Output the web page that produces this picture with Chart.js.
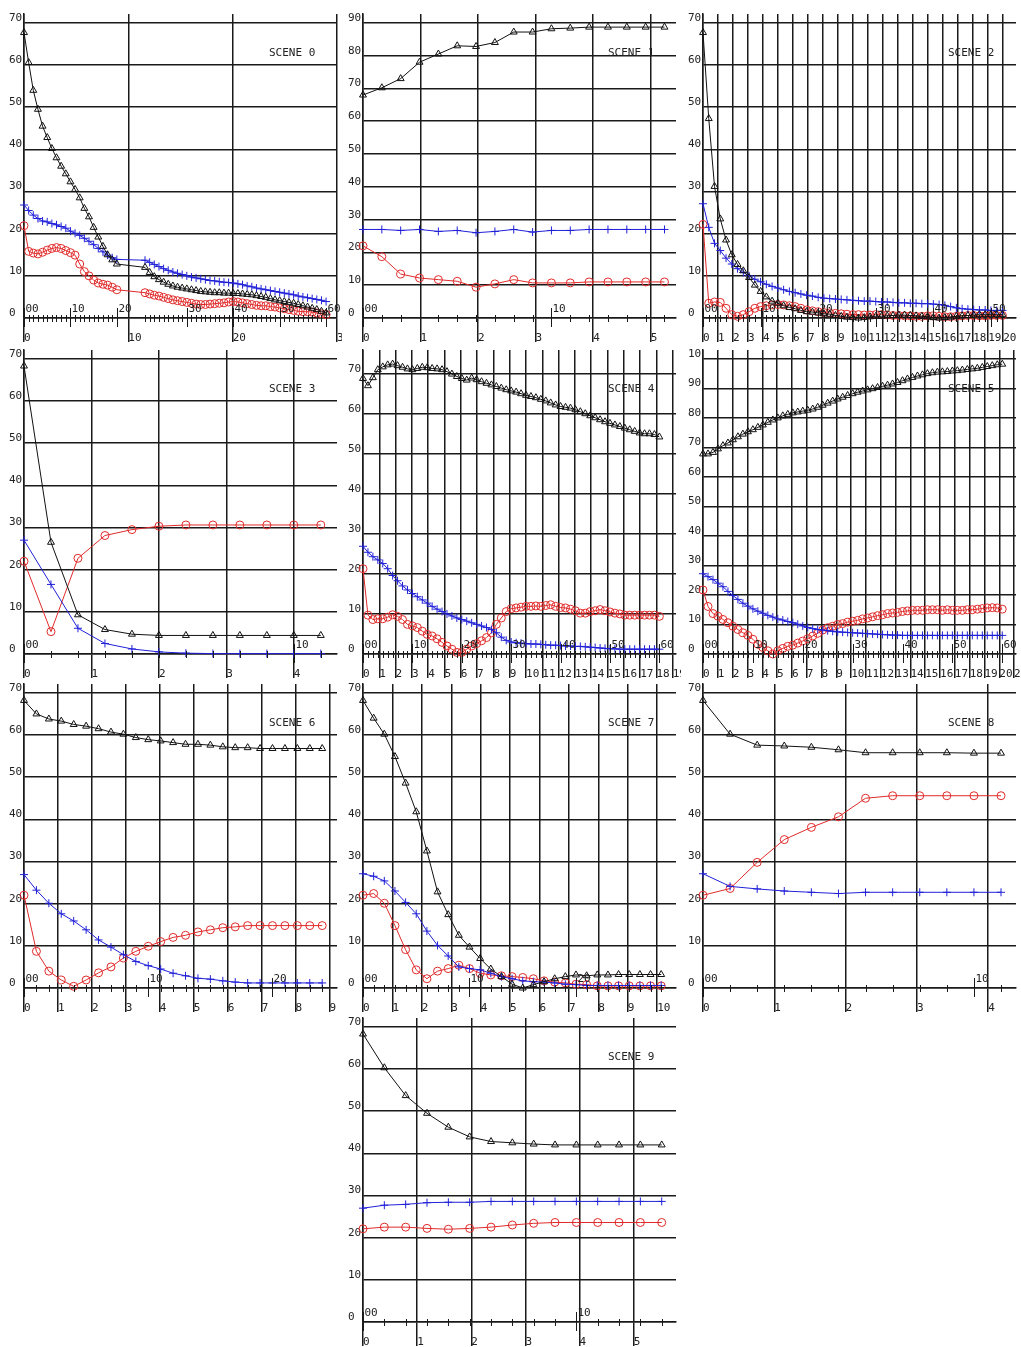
<!DOCTYPE html>
<html>
<head>
<meta charset="utf-8">
<script src="https://cdn.jsdelivr.net/npm/chart.js@4.4.1/dist/chart.umd.min.js"></script>
<style>
  html, body { margin: 0; padding: 0; background: #fff; overflow: hidden; }
  #wrap { position: relative; width: 1021px; height: 1347px; }
  #wrap canvas { position: absolute; }
</style>
</head>
<body>
<div id="wrap"></div>
<script>
// ---- values (black = triangles, blue = plus, red = circles)
const scene0Black = [67.7, 60.6, 54.0, 49.5, 45.5, 42.8, 40.2, 38.0, 36.0, 34.2, 32.3, 30.5, 28.5, 26.0, 24.0, 21.5, 19.2, 17.0, 15.0, 13.8, 12.8,
  12.0, 10.8, 9.8, 9.1, 8.5, 8.0, 7.6, 7.3, 7.1, 6.9, 6.7, 6.5, 6.3, 6.2, 6.1, 6.0, 6.0, 5.9, 5.9, 5.8,
  5.8, 5.7, 5.6, 5.5, 5.3, 5.1, 4.9, 4.6, 4.3, 4.1, 3.9, 3.7, 3.5, 3.2, 2.9, 2.6, 2.3, 2.0, 1.6, 1.2];
const scene0Blue = [26.8, 25.5, 24.4, 23.6, 23.0, 22.8, 22.4, 22.1, 21.7, 21.3, 20.6, 20.1, 19.6, 18.9, 18.2, 17.4, 16.5, 15.7, 14.9, 14.3, 13.9,
  13.7, 13.2, 12.7, 12.2, 11.7, 11.3, 10.9, 10.6, 10.3, 10.0, 9.7, 9.5, 9.3, 9.1, 8.9, 8.8, 8.6, 8.5, 8.4, 8.3,
  8.1, 7.9, 7.6, 7.4, 7.1, 6.9, 6.7, 6.5, 6.3, 6.1, 5.9, 5.7, 5.5, 5.2, 5.0, 4.8, 4.6, 4.4, 4.2, 3.9];
const scene0Red = [21.9, 15.8, 15.4, 15.2, 15.6, 16.1, 16.5, 16.7, 16.5, 16.0, 15.5, 14.9, 12.8, 11.0, 10.0, 9.0, 8.3, 8.0, 7.8, 7.3, 6.7,
  6.0, 5.7, 5.4, 5.2, 4.9, 4.6, 4.3, 4.1, 3.9, 3.7, 3.5, 3.3, 3.2, 3.2, 3.3, 3.4, 3.5, 3.6, 3.8, 3.9,
  3.8, 3.6, 3.4, 3.2, 3.0, 2.9, 2.9, 2.7, 2.6, 2.4, 2.2, 2.0, 1.8, 1.6, 1.5, 1.5, 1.4, 1.2, 1.0, 0.8];
const scene0Jump = { index: 21, time: 11.6 };

const scene1Black = [68.0, 70.2, 73.0, 78.0, 80.5, 83.0, 82.8, 84.0, 87.2, 87.2, 88.2, 88.4, 88.7, 88.7, 88.7, 88.7, 88.7];
const scene1Blue = [27.0, 27.0, 26.7, 27.0, 26.4, 26.7, 26.0, 26.4, 27.0, 26.2, 26.7, 26.7, 27.0, 27.0, 27.0, 27.0, 27.0];
const scene1Red = [22.0, 18.7, 13.4, 12.2, 11.7, 11.2, 9.4, 10.4, 11.7, 10.7, 10.7, 10.7, 11.0, 11.0, 11.0, 11.0, 11.0];

const scene2Black = [67.7, 47.3, 31.2, 23.5, 18.5, 15.0, 12.7, 11.2, 9.6, 7.8, 6.3, 5.0, 4.0, 3.5, 2.9, 2.5, 2.2, 1.8, 1.5, 1.4, 1.2,
  1.0, 0.9, 0.6, 0.4, 0.2, 0.1, 0.0, 0.1, 0.3, 0.4, 0.4, 0.5, 0.6, 0.7, 0.7, 0.6, 0.5, 0.4, 0.3, 0.1,
  0.0, 0.1, 0.2, 0.4, 0.5, 0.6, 0.7, 0.8, 0.8, 0.8, 0.8, 0.8];
const scene2Blue = [27.1, 21.5, 17.7, 16.0, 14.2, 12.8, 11.7, 10.8, 10.0, 9.2, 8.6, 8.0, 7.5, 7.1, 6.7, 6.3, 6.0, 5.7, 5.4, 5.2, 4.9,
  4.7, 4.6, 4.5, 4.4, 4.3, 4.2, 4.1, 4.0, 4.0, 3.9, 3.8, 3.8, 3.7, 3.6, 3.6, 3.5, 3.5, 3.4, 3.4, 3.3,
  3.2, 3.0, 2.7, 2.4, 2.2, 2.1, 2.0, 1.9, 1.9, 1.8, 1.8, 1.8];
const scene2Red = [22.2, 3.5, 3.8, 3.7, 2.3, 0.8, 0.4, 0.8, 1.5, 2.3, 2.7, 2.9, 3.1, 3.2, 3.1, 2.9, 2.7, 2.3, 1.9, 1.7, 1.5,
  1.3, 1.2, 1.1, 1.0, 0.9, 0.8, 0.8, 0.7, 0.7, 0.8, 0.8, 0.7, 0.6, 0.6, 0.5, 0.5, 0.4, 0.4, 0.5, 0.5,
  0.4, 0.3, 0.3, 0.4, 0.5, 0.6, 0.6, 0.5, 0.5, 0.6, 0.6, 0.6];

const scene3Black = [68.3, 26.5, 9.3, 5.8, 4.7, 4.4, 4.4, 4.4, 4.4, 4.4, 4.4, 4.4];
const scene3Blue = [27.0, 16.5, 6.1, 2.5, 1.2, 0.5, 0.2, 0.1, 0.1, 0.1, 0.1, 0.1];
const scene3Red = [22.0, 5.3, 22.7, 28.1, 29.5, 30.3, 30.6, 30.6, 30.6, 30.6, 30.6, 30.6];

const scene4Black = [68.8, 67.0, 69.0, 71.0, 71.7, 72.2, 72.4, 72.0, 71.6, 71.2,
  71.0, 71.3, 71.6, 71.5, 71.3, 71.2, 71.0, 70.5, 69.9, 69.3,
  68.8, 68.4, 68.9, 68.5, 68.0, 67.6, 67.2, 66.8, 66.4, 66.0,
  65.7, 65.4, 65.0, 64.6, 64.3, 64.0, 63.6, 63.2, 62.7, 62.2,
  61.8, 61.6, 61.4, 61.0, 60.5, 60.0, 59.5, 59.0, 58.5, 58.0,
  57.6, 57.2, 56.8, 56.4, 56.0, 55.6, 55.2, 55.0, 55.0, 54.8, 54.2];
const scene4Blue = [26.9, 25.4, 24.3, 23.5, 22.6, 21.3, 19.6, 18.3, 17.0, 16.0,
  15.1, 14.3, 13.5, 12.7, 11.9, 11.2, 10.6, 10.0, 9.5, 9.0,
  8.6, 8.2, 7.8, 7.4, 7.0, 6.6, 6.1, 5.3, 4.2, 3.4,
  3.0, 2.8, 2.7, 2.6, 2.5, 2.5, 2.4, 2.3, 2.2, 2.2,
  2.1, 2.0, 2.0, 1.9, 1.9, 1.8, 1.7, 1.6, 1.5, 1.4,
  1.3, 1.3, 1.2, 1.2, 1.2, 1.2, 1.2, 1.2, 1.2, 1.2, 1.2];
const scene4Red = [21.3, 9.7, 8.6, 8.8, 8.8, 9.2, 9.8, 9.4, 8.6, 7.4,
  7.0, 6.6, 5.7, 4.9, 4.5, 3.8, 2.9, 2.0, 1.2, 0.4,
  0.4, 1.2, 2.0, 2.6, 3.3, 4.1, 5.3, 7.4, 9.0, 10.6,
  11.3, 11.5, 11.7, 11.9, 11.9, 12.0, 11.9, 12.1, 12.3, 11.9,
  11.6, 11.5, 11.2, 10.8, 10.2, 10.2, 10.6, 10.8, 11.1, 10.8,
  10.5, 10.2, 10.0, 9.7, 9.7, 9.7, 9.7, 9.7, 9.7, 9.7, 9.4];

const scene5Black = [67.8, 67.8, 68.3, 69.5, 70.6, 71.5, 72.6, 73.6, 74.5, 75.3,
  76.0, 76.8, 77.6, 78.5, 79.3, 80.0, 80.7, 81.2, 81.7, 82.0,
  82.3, 82.6, 83.0, 83.6, 84.3, 85.0, 85.7, 86.4, 87.0, 87.6,
  88.2, 88.7, 89.1, 89.5, 89.9, 90.3, 90.7, 91.1, 91.5, 92.0,
  92.6, 93.2, 93.7, 94.2, 94.6, 95.0, 95.3, 95.5, 95.6, 95.7,
  95.9, 96.0, 96.2, 96.4, 96.6, 96.8, 97.1, 97.4, 97.7, 98.0, 98.2];
const scene5Blue = [27.2, 26.2, 25.2, 24.0, 22.8, 21.2, 19.8, 18.5, 17.2, 16.2,
  15.3, 14.5, 13.8, 13.1, 12.5, 11.9, 11.5, 11.0, 10.6, 10.1,
  9.5, 9.0, 8.6, 8.3, 8.1, 7.9, 7.7, 7.5, 7.4, 7.3,
  7.2, 7.1, 7.0, 6.9, 6.8, 6.7, 6.6, 6.5, 6.4, 6.4,
  6.3, 6.3, 6.3, 6.3, 6.3, 6.3, 6.3, 6.3, 6.3, 6.3,
  6.3, 6.3, 6.3, 6.3, 6.3, 6.3, 6.3, 6.3, 6.3, 6.3, 6.3];
const scene5Red = [21.7, 16.1, 13.7, 12.8, 11.7, 10.6, 9.4, 8.3, 7.2, 6.3,
  5.0, 3.3, 2.2, 1.1, 0.0, 1.1, 1.9, 2.6, 3.0, 3.7,
  4.4, 5.2, 6.1, 7.0, 8.1, 8.9, 9.4, 10.0, 10.3, 10.8,
  11.1, 11.4, 11.9, 12.2, 12.6, 13.0, 13.3, 13.7, 13.9, 14.1,
  14.4, 14.6, 14.8, 14.8, 14.8, 15.0, 15.0, 15.0, 14.8, 15.0,
  14.8, 14.8, 14.8, 15.0, 15.0, 15.2, 15.4, 15.6, 15.7, 15.6, 15.2];

const scene6Black = [68.2, 65.0, 63.8, 63.3, 62.5, 62.1, 61.5, 60.7, 60.2, 59.4, 58.9, 58.6, 58.2, 57.8, 57.8, 57.6, 57.2, 57.0, 57.0, 56.8, 56.8, 56.8, 56.8, 56.8, 56.8];
const scene6Blue = [26.9, 23.2, 20.1, 17.6, 15.9, 13.8, 11.4, 9.7, 7.9, 6.3, 5.3, 4.5, 3.5, 2.9, 2.3, 2.1, 1.7, 1.4, 1.2, 1.2, 1.2, 1.2, 1.2, 1.2, 1.2];
const scene6Red = [22.0, 8.7, 4.0, 1.9, 0.4, 1.9, 3.6, 5.0, 7.1, 8.7, 9.9, 11.0, 12.0, 12.5, 13.3, 13.8, 14.3, 14.5, 14.8, 14.8, 14.8, 14.8, 14.8, 14.8, 14.8];

const scene7Black = [68.2, 64.0, 60.2, 54.9, 48.6, 41.8, 32.5, 22.8, 17.4, 12.5, 9.7, 7.0, 4.5, 2.7, 0.9, 0.0, 0.8, 1.5, 2.2, 2.7, 3.1, 2.9, 3.1, 3.1, 3.2, 3.2, 3.2, 3.2, 3.2];
const scene7Blue = [27.1, 26.5, 25.4, 23.0, 20.3, 17.6, 13.5, 10.1, 7.6, 5.0, 4.6, 4.3, 3.5, 2.7, 2.2, 1.7, 1.5, 1.4, 1.2, 0.9, 0.8, 0.6, 0.6, 0.6, 0.6, 0.6, 0.6, 0.6, 0.6];
const scene7Red = [22.0, 22.4, 20.1, 14.8, 9.1, 4.3, 2.2, 4.0, 4.6, 5.4, 4.6, 3.5, 3.1, 2.9, 2.7, 2.5, 2.2, 1.7, 1.4, 1.2, 0.9, 0.8, 0.5, 0.5, 0.5, 0.5, 0.5, 0.5, 0.5];

const scene8Black = [68.2, 60.2, 57.6, 57.4, 57.1, 56.5, 55.8, 55.8, 55.8, 55.8, 55.7, 55.7];
const scene8Blue = [27.1, 24.1, 23.5, 23.0, 22.7, 22.4, 22.7, 22.7, 22.7, 22.7, 22.7, 22.7];
const scene8Red = [22.0, 23.6, 29.8, 35.2, 38.1, 40.6, 45.0, 45.6, 45.6, 45.6, 45.6, 45.6];

const scene9Black = [68.3, 60.3, 53.7, 49.5, 46.2, 43.9, 42.8, 42.5, 42.2, 42.0, 42.0, 42.0, 42.0, 42.0, 42.0];
const scene9Blue = [27.0, 27.7, 27.9, 28.3, 28.4, 28.4, 28.6, 28.6, 28.6, 28.6, 28.6, 28.6, 28.6, 28.6, 28.6];
const scene9Red = [22.1, 22.5, 22.5, 22.2, 22.0, 22.2, 22.5, 23.0, 23.4, 23.6, 23.6, 23.6, 23.6, 23.6, 23.6];

// sample interval on the bottom axis, axis ranges and tick spacing per scene
const sceneStep = [0.445, 0.3275, 0.3836, 0.40, 0.303, 0.3367, 0.366, 0.362, 0.38, 0.394];
const sceneXMax = [30, 5.44, 20.85, 4.64, 19.2, 21.13, 9.22, 10.64, 4.39, 5.78];
const sceneXTick = [10, 1, 1, 1, 1, 1, 1, 1, 1, 1];
const sceneYTop = [70, 90, 70, 70, 73.7, 100, 70, 70, 70, 70];

const sceneSeries = [
  [scene0Black, scene0Blue, scene0Red], [scene1Black, scene1Blue, scene1Red],
  [scene2Black, scene2Blue, scene2Red], [scene3Black, scene3Blue, scene3Red],
  [scene4Black, scene4Blue, scene4Red], [scene5Black, scene5Blue, scene5Red],
  [scene6Black, scene6Blue, scene6Red], [scene7Black, scene7Blue, scene7Red],
  [scene8Black, scene8Blue, scene8Red], [scene9Black, scene9Blue, scene9Red]
];

// ---- layout of the panels
const panelCol = [0, 1, 2, 0, 1, 2, 0, 1, 2, 1];
const panelRow = [0, 0, 0, 1, 1, 1, 2, 2, 2, 3];
const colLeft = [0, 339, 679];
const rowTop = [9, 345, 679, 1013];
const W = 342, H = 336;
const FONT = '"DejaVu Sans Mono", "Liberation Mono", monospace';
const INK = '#1a1a1a';

function sampleTimes(s) {
  return sceneSeries[s][0].map((_, i) => {
    if (s === 0 && i >= scene0Jump.index) return scene0Jump.time + (i - scene0Jump.index) * sceneStep[s];
    return i * sceneStep[s];
  });
}

// frame index ticks along the zero line plus the scene caption
const frameAxis = {
  id: 'frameAxis',
  afterDraw(chart, args, opts) {
    const { ctx, chartArea, scales: { x, y } } = chart;
    const y0 = Math.round(y.getPixelForValue(0));
    ctx.save();
    ctx.strokeStyle = INK;
    ctx.fillStyle = '#222';
    ctx.lineWidth = 1;
    ctx.font = '11px ' + FONT;
    ctx.textBaseline = 'alphabetic';
    ctx.textAlign = 'left';
    opts.times.forEach((t, i) => {
      const px = Math.round(x.getPixelForValue(t)) + 0.5;
      const big = i % 10 === 0;
      ctx.beginPath();
      ctx.moveTo(px, y0 - (big ? 10 : 3));
      ctx.lineTo(px, y0 + (big ? 9 : 4));
      ctx.stroke();
      if (big) ctx.fillText(String(i).padStart(2, '0'), px + 1, y0 - 6);
    });
    ctx.fillText(opts.title, chartArea.left + 245, chartArea.top + 42);
    ctx.restore();
  }
};

function lineSet(values, times, color, style) {
  return {
    data: values.map((v, i) => ({ x: times[i], y: v })),
    borderColor: color,
    borderWidth: 1,
    pointStyle: style,
    pointRadius: 4,
    pointBorderColor: color,
    pointBackgroundColor: 'rgba(0,0,0,0)',
    pointBorderWidth: 1,
    tension: 0,
    clip: false
  };
}

function makePanel(s) {
  const wrap = document.getElementById('wrap');
  const cv = document.createElement('canvas');
  cv.width = W; cv.height = H;
  cv.style.left = colLeft[panelCol[s]] + 'px';
  cv.style.top = rowTop[panelRow[s]] + 'px';
  cv.style.width = W + 'px'; cv.style.height = H + 'px';
  wrap.appendChild(cv);

  const times = sampleTimes(s);
  const [black, blue, red] = sceneSeries[s];
  const tickFont = { family: FONT, size: 11 };

  new Chart(cv.getContext('2d'), {
    type: 'line',
    data: {
      datasets: [
        lineSet(black, times, '#111111', 'triangle'),
        lineSet(blue, times, '#2020d8', 'cross'),
        lineSet(red, times, '#e02a2a', 'circle')
      ]
    },
    options: {
      responsive: false,
      animation: false,
      devicePixelRatio: 1,
      events: [],
      layout: { padding: { left: 9, right: 0, top: 0, bottom: 0 } },
      scales: {
        x: {
          type: 'linear',
          min: 0,
          max: sceneXMax[s],
          afterFit(sc) { sc.height = 27; sc.paddingLeft = 0; sc.paddingRight = 0; },
          border: { color: INK, width: 1.5 },
          grid: { color: INK, lineWidth: 1.5, tickLength: 24 },
          ticks: {
            stepSize: sceneXTick[s], includeBounds: false, autoSkip: false,
            maxRotation: 0, minRotation: 0, align: 'start', padding: -10,
            color: '#222', font: tickFont, callback: v => String(v)
          }
        },
        y: {
          min: 0,
          max: sceneYTop[s] * 309 / 300,
          afterFit(sc) { sc.width = 15; sc.paddingTop = 0; sc.paddingBottom = 0; },
          border: { color: INK, width: 1.5 },
          grid: { color: INK, lineWidth: 1.5, drawTicks: false },
          ticks: {
            stepSize: 10, includeBounds: false, crossAlign: 'far', padding: 0,
            color: '#222', font: { family: FONT, size: 11, lineHeight: 0.9 },
            callback: v => [String(v), '']
          }
        }
      },
      plugins: {
        legend: { display: false },
        tooltip: { enabled: false },
        frameAxis: { times: times, title: 'SCENE ' + s }
      }
    },
    plugins: [frameAxis]
  });
}

for (let s = 0; s < sceneSeries.length; s++) makePanel(s);
</script>
</body>
</html>
